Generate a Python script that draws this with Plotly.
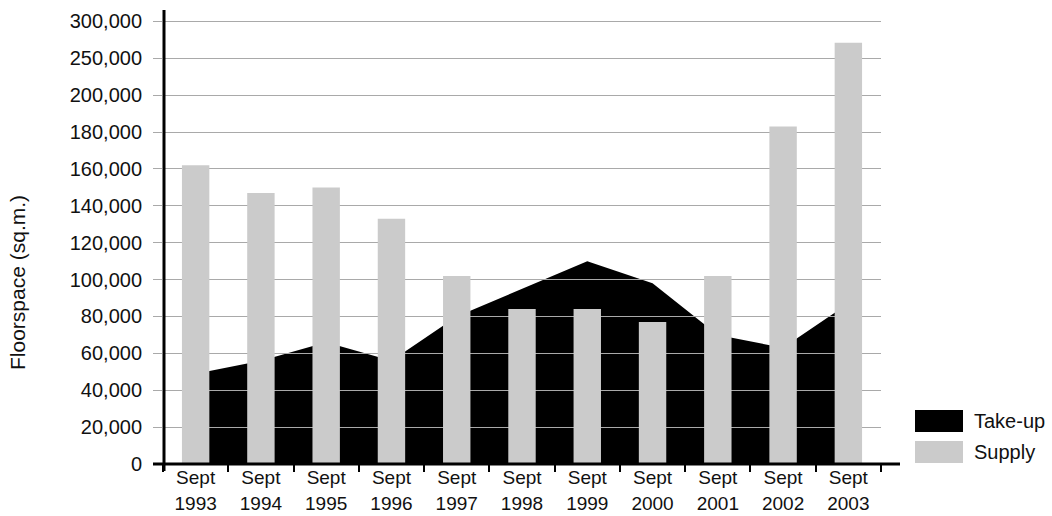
import numpy as np
import plotly.graph_objects as go

# ---- data -------------------------------------------------------------
periods = ["1993", "1994", "1995", "1996", "1997", "1998",
           "1999", "2000", "2001", "2002", "2003"]
period_prefix = "Sept"
take_up = [49000, 56000, 66000, 56000, 80000, 95000,
           110000, 98000, 70000, 63000, 87000]
supply = [162000, 147000, 150000, 133000, 102000, 84000,
          84000, 77000, 102000, 183000, 271000]

# value axis: labelled steps are drawn evenly spaced
y_tick_values = [0, 20000, 40000, 60000, 80000, 100000, 120000,
                 140000, 160000, 180000, 200000, 250000, 300000]
y_tick_labels = [f"{v:,}" for v in y_tick_values]

# ---- page geometry ----------------------------------------------------
W, H = 1052, 516
L, R, T, B = 163, 171, 10, 52
PW, PH = W - L - R, H - T - B
FONT = "Liberation Sans, Arial, sans-serif"
GRID = "#a9a9a9"
TEXT = "#111111"


def px_x(px):
    return (px - L) / PW


def px_y(py):
    return (H - B - py) / PH


tick_pos = np.arange(len(y_tick_values), dtype=float)


def to_axis(values):
    """Piecewise scale: map a floorspace value onto the evenly spaced ticks."""
    return np.interp(np.asarray(values, dtype=float), y_tick_values, tick_pos)


y_top = 12.31
x_range = [-0.5, len(periods) - 0.5]

fig = go.Figure()

# Take-up area (bottom subplot)
fig.add_trace(go.Scatter(
    x=periods, y=to_axis(take_up), customdata=take_up,
    mode="lines", fill="tozeroy", fillcolor="#000000",
    line=dict(width=0, color="#000000"), name="Take-up",
    hovertemplate="Sept %{x}<br>Take-up: %{customdata:,}<extra></extra>",
    xaxis="x", yaxis="y", showlegend=False,
))

# Supply bars (upper subplot, same domain -> drawn over gridlines)
fig.add_trace(go.Bar(
    x=periods, y=to_axis(supply), customdata=supply,
    marker=dict(color="#cbcbcb", line=dict(width=0)), width=0.42,
    name="Supply",
    hovertemplate="Sept %{x}<br>Supply: %{customdata:,}<extra></extra>",
    xaxis="x2", yaxis="y2", showlegend=False,
))

fig.update_layout(
    width=W, height=H,
    margin=dict(l=L, r=R, t=T, b=B, pad=0, autoexpand=False),
    paper_bgcolor="white", plot_bgcolor="rgba(0,0,0,0)",
    font=dict(family=FONT, color=TEXT),
    showlegend=False,
    xaxis=dict(
        domain=[0, 1], range=x_range, type="category", automargin=False,
        showgrid=False, zeroline=False, showline=False, ticks="",
        tickfont=dict(size=19, family=FONT, color=TEXT),
        ticklabelstandoff=26,
    ),
    yaxis=dict(
        domain=[0, 1], range=[0, y_top], visible=False, automargin=False,
        showgrid=False, zeroline=False,
    ),
    xaxis2=dict(
        domain=[0, 1], range=x_range, type="category", anchor="y2",
        automargin=False,
        tickmode="array", tickvals=periods,
        ticktext=[period_prefix] * len(periods),
        tickson="boundaries", ticks="outside", ticklen=7, tickwidth=2,
        tickcolor="#000000", showgrid=False, zeroline=False, showline=False,
        tickfont=dict(size=19, family=FONT, color=TEXT),
    ),
    yaxis2=dict(
        domain=[0, 1], range=[0, y_top], anchor="x2", automargin=False,
        tickmode="array", tickvals=tick_pos, ticktext=y_tick_labels,
        ticks="outside", ticklen=9, tickwidth=1, tickcolor=GRID,
        showgrid=True, gridcolor=GRID, gridwidth=1,
        zeroline=False, showline=False,
        tickfont=dict(size=20, family=FONT, color=TEXT),
        ticklabelstandoff=7,
    ),
)

shapes = [
    # axis lines
    dict(type="line", xref="paper", yref="paper",
         x0=px_x(153), x1=px_x(900), y0=px_y(464), y1=px_y(464),
         line=dict(color="#000000", width=3), layer="above"),
    dict(type="line", xref="paper", yref="paper",
         x0=px_x(164), x1=px_x(164), y0=px_y(471), y1=px_y(10),
         line=dict(color="#000000", width=3), layer="above"),
    # legend swatches
    dict(type="rect", xref="paper", yref="paper",
         x0=px_x(915), x1=px_x(963), y0=px_y(432), y1=px_y(410),
         fillcolor="#000000", line=dict(width=0)),
    dict(type="rect", xref="paper", yref="paper",
         x0=px_x(915), x1=px_x(963), y0=px_y(463), y1=px_y(441),
         fillcolor="#cbcbcb", line=dict(width=0)),
]

annotations = [
    dict(text="Floorspace (sq.m.)", xref="paper", yref="paper",
         x=px_x(17), y=px_y(283), textangle=-90, showarrow=False,
         xanchor="center", yanchor="middle",
         font=dict(size=21, family=FONT, color=TEXT)),
    dict(text="Take-up", xref="paper", yref="paper",
         x=px_x(972), y=px_y(421), showarrow=False,
         xanchor="left", yanchor="middle",
         font=dict(size=20, family=FONT, color=TEXT)),
    dict(text="Supply", xref="paper", yref="paper",
         x=px_x(972), y=px_y(452), showarrow=False,
         xanchor="left", yanchor="middle",
         font=dict(size=20, family=FONT, color=TEXT)),
]

fig.update_layout(shapes=shapes, annotations=annotations)

fig.write_html("out.html")
